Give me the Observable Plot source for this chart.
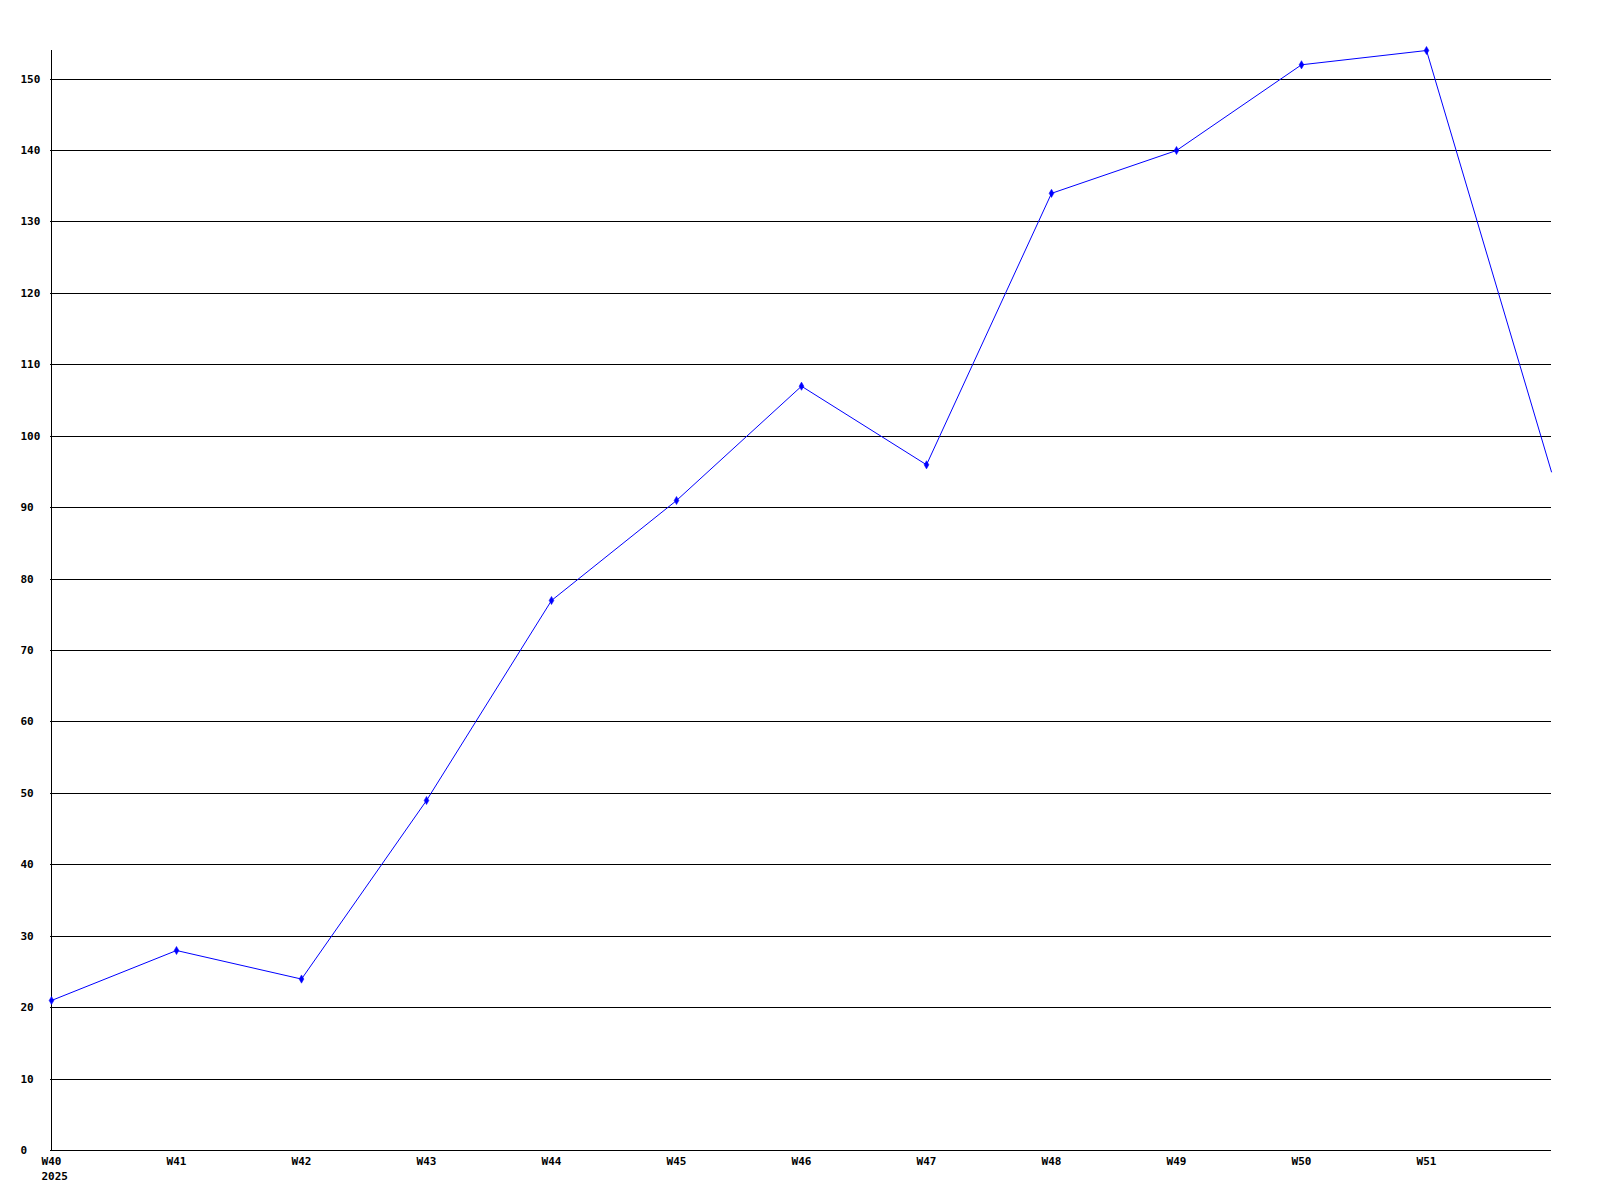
<!DOCTYPE html>
<html>
<head>
<meta charset="utf-8">
<script src="https://cdn.jsdelivr.net/npm/d3@7"></script>
<script src="https://cdn.jsdelivr.net/npm/@observablehq/plot@0.6"></script>
<style>
  html, body { margin: 0; padding: 0; background: #fff; }
  #chart svg { display: block; }
  #chart svg text { font-weight: bold; }
</style>
</head>
<body>
<div id="chart"></div>
<script>
const weeks = ["W40","W41","W42","W43","W44","W45","W46","W47","W48","W49","W50","W51","W52"];
const values = [21, 28, 24, 49, 77, 91, 107, 96, 134, 140, 152, 154, 95];
const tickWeeks = ["W40","W41","W42","W43","W44","W45","W46","W47","W48","W49","W50","W51"];
const yTicks = [0,10,20,30,40,50,60,70,80,90,100,110,120,130,140,150];
const yearLabel = "2025";

const data = weeks.map((w, i) => ({week: w, value: values[i], i}));

const chart = Plot.plot({
  width: 1600,
  height: 1200,
  marginLeft: 50,
  marginRight: 49,
  marginTop: 50,
  marginBottom: 50,
  style: {fontFamily: "'DejaVu Sans Mono', monospace", fontSize: "11px", background: "#fff", color: "#000"},
  x: {type: "point", domain: weeks, padding: 0, label: null},
  y: {domain: [0, d3.max(values)], label: null},
  marks: [
    Plot.ruleY(yTicks.filter(d => d > 0), {stroke: "#000", strokeWidth: 1, strokeOpacity: 1, shapeRendering: "crispEdges"}),
    Plot.ruleX([weeks[0]], {stroke: "#000", shapeRendering: "crispEdges"}),
    Plot.ruleY([0], {stroke: "#000", shapeRendering: "crispEdges"}),
    Plot.axisY({ticks: yTicks, tickSize: 0, tickPadding: 30, textAnchor: "start", label: null, fontSize: 11}),
    Plot.axisX({ticks: tickWeeks, tickSize: 0, tickPadding: 7, label: null, fontSize: 11}),
    Plot.text([yearLabel], {x: () => weeks[0], y: 0, textAnchor: "start", dx: -10, dy: 22, lineAnchor: "top", fill: "#000", fontSize: 11}),
    Plot.line(data, {x: "week", y: "value", stroke: "#0000ff", strokeWidth: 1}),
    Plot.dot(data.filter(d => d.i < weeks.length - 1), {x: "week", y: "value", symbol: "diamond", r: 2.5, fill: "#0000ff", stroke: "#0000ff", strokeWidth: 0.5})
  ]
});
document.getElementById("chart").appendChild(chart);
</script>
</body>
</html>
